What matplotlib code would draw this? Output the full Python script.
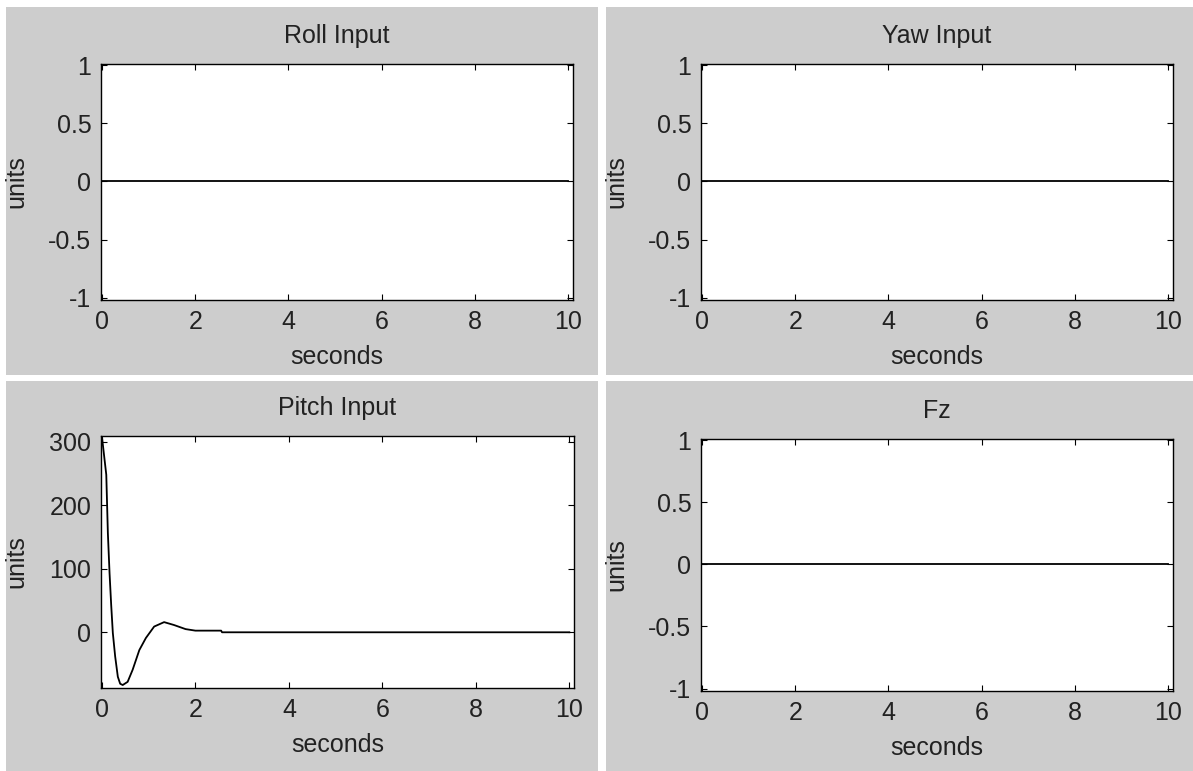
import numpy as np
import matplotlib.pyplot as plt
from matplotlib.patches import Rectangle

plt.rcParams['font.family'] = ['Liberation Sans', 'DejaVu Sans']
plt.rcParams['font.size'] = 18

# time axis and responses
t_flat = [0, 10]
zero_flat = [0, 0]

t_pitch = [0.0, 0.093, 0.127, 0.163, 0.198, 0.233, 0.283, 0.34, 0.39, 0.445,
           0.55, 0.657, 0.80, 0.94, 1.117, 1.33, 1.54, 1.79, 2.0, 2.55, 2.57, 10.0]
pitch = [308, 248, 156, 93, 43, -1, -38, -70, -81, -83,
         -78, -59, -28, -9, 9, 16, 11.5, 5, 2.6, 2.6, 0, 0]

titles = ['Roll Input', 'Yaw Input', 'Pitch Input', 'Fz']
xticks = [0, 2, 4, 6, 8, 10]
yticks_unit = [-1, -0.5, 0, 0.5, 1]
yticks_pitch = [0, 100, 200, 300]

W, H = 1193, 771
fig = plt.figure(figsize=(W / 100, H / 100), dpi=100)
fig.patch.set_facecolor('white')

gray = '#cdcdcd'
# panel backgrounds in pixels (x0, y0_top, x1, y1_bottom)
panels = [(6, 7, 598, 375), (606, 7, 1193, 375),
          (6, 381, 598, 771), (606, 381, 1193, 771)]
for x0, y0, x1, y1 in panels:
    fig.patches.append(Rectangle((x0 / W, 1 - y1 / H), (x1 - x0) / W, (y1 - y0) / H,
                                 transform=fig.transFigure, facecolor=gray,
                                 edgecolor='none', zorder=-10))

boxes = [(101, 64, 573, 300), (701, 64, 1173, 300),
         (101, 436, 574, 688), (701, 439, 1173, 691)]

for i, (l, t, r, b) in enumerate(boxes):
    ax = fig.add_axes([l / W, 1 - b / H, (r - l) / W, (b - t) / H])
    ax.set_zorder(5)
    ax.set_facecolor('white')
    if i == 2:
        ax.plot(t_pitch, pitch, color='black', lw=1.3)
        ax.set_ylim(-87.7, 309)
        ax.set_yticks(yticks_pitch)
        ax.set_yticklabels([str(v) for v in yticks_pitch])
    else:
        ax.plot(t_flat, zero_flat, color='black', lw=1.3)
        ax.set_ylim(-1.02, 1.01)
        ax.set_yticks(yticks_unit)
        ax.set_yticklabels(['-1', '-0.5', '0', '0.5', '1'])
    ax.set_xlim(-0.02, 10.1)
    ax.set_xticks(xticks)
    ax.set_xticklabels([str(v) for v in xticks])
    ax.tick_params(direction='in', length=4, width=0.8, top=True, right=True,
                   colors='black', labelcolor='#222222', pad=7)
    for s in ax.spines.values():
        s.set_linewidth(1.0)
    ax.set_title(titles[i], pad=15, color='#222222', fontsize=18)
    ax.set_xlabel('seconds', labelpad=8, color='#222222')
    ax.set_ylabel('units', color='#222222')
    ax.yaxis.set_label_coords(-73 / (r - l), 0.5)

fig.savefig('out.png', dpi=100, facecolor='white')
